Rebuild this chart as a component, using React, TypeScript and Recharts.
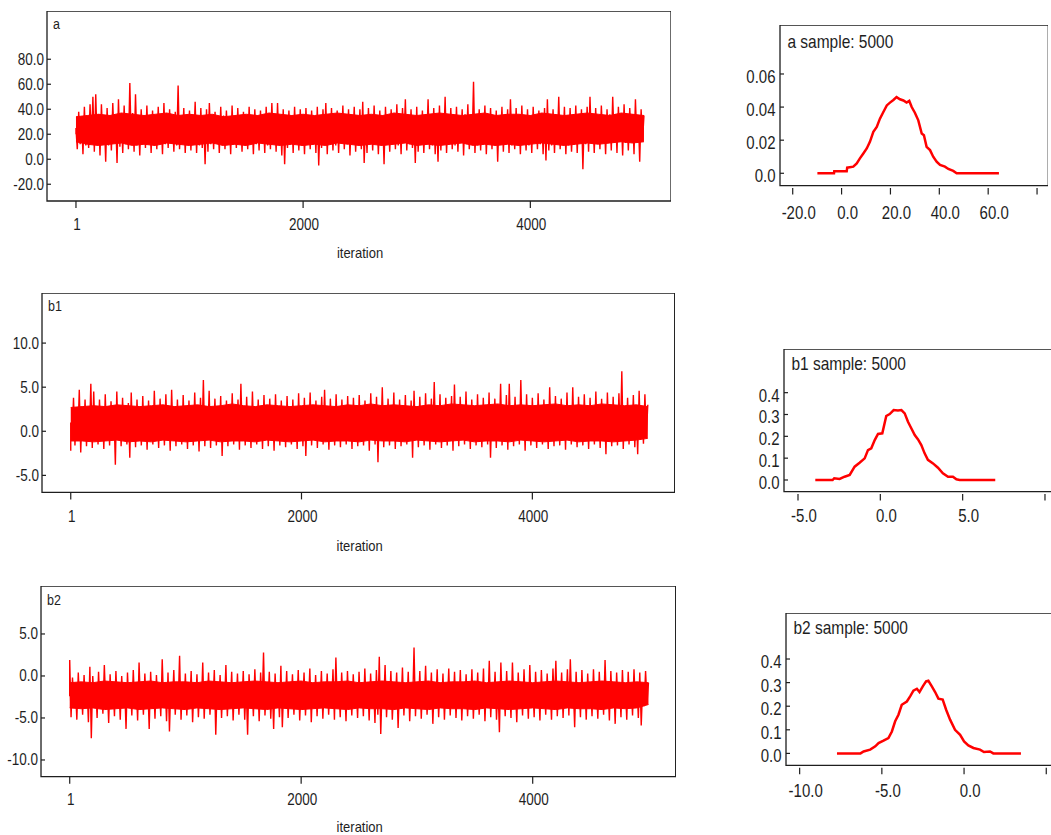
import React from 'react';
import { ComposedChart, Area, Line, XAxis, YAxis, ReferenceArea } from 'recharts';

// ---------- trace data: spike extremes, one high and one low per 25 iterations ----------
const TRACE_STEP = 25;
// ---------- trace data: dense core band, one value per 100 iterations ----------
const CORE_STEP = 100;

const aTraceHigh = [
  25, 38, 34, 42, 33, 44, 50, 52, 36, 44,
  34, 41, 35, 45, 33, 48, 36, 43, 35, 61,
  37, 52, 34, 40, 33, 43, 35, 39, 32, 42,
  34, 45, 33, 40, 35, 38, 59, 34, 41, 33,
  39, 34, 46, 35, 41, 33, 40, 45, 34, 38,
  33, 42, 35, 39, 34, 43, 33, 41, 35, 38,
  34, 42, 33, 40, 35, 39, 33, 42, 34, 45,
  35, 45, 34, 40, 33, 39, 35, 42, 34, 40,
  33, 41, 35, 39, 34, 42, 33, 40, 45, 36,
  41, 34, 39, 35, 43, 33, 40, 34, 42, 35,
  40, 46, 34, 41, 35, 43, 33, 39, 35, 42,
  34, 40, 35, 44, 33, 41, 48, 35, 40, 34,
  42, 35, 39, 34, 48, 35, 41, 34, 43, 36,
  50, 34, 41, 35, 42, 33, 40, 36, 44, 35,
  62, 34, 40, 35, 43, 34, 41, 35, 39, 34,
  42, 35, 40, 48, 34, 41, 35, 43, 34, 40,
  35, 42, 34, 39, 35, 41, 48, 34, 40, 35,
  50, 34, 42, 35, 41, 34, 43, 35, 40, 34,
  42, 50, 35, 41, 34, 43, 35, 40, 36, 50,
  36, 42, 35, 44, 34, 41, 36, 48, 35, 40,
  35,
];
const aTraceLow = [
  20, 8, 12, 4, 11, 9, 13, 6, 12, 3,
  12, -2, 11, 7, 13, -3, 10, 5, 12, 8,
  13, 6, 11, 3, 12, 9, 14, 5, 11, 8,
  13, 4, 12, 9, 13, 6, 11, 8, 14, 5,
  12, 7, 13, 5, 11, 9, -4, 6, 12, 8,
  13, 5, 11, 8, 14, 4, 12, 9, 13, 6,
  11, 8, 13, 4, 12, 7, 14, 5, 11, 8,
  13, 6, 12, 3, -4, 9, 12, 5, 13, 7,
  11, 4, 13, 8, 12, 5, -5, 9, 12, 4,
  13, 7, 11, 5, 14, 8, 12, 3, 13, 6,
  11, 8, -3, 5, 13, 7, 12, 4, 11, -4,
  13, 6, 12, 8, 11, 4, 13, 7, 12, 9,
  -3, 6, 13, 5, 12, 8, 11, 4, -2, 7,
  12, 5, 13, 8, 11, 6, 14, 3, 12, 8,
  13, 5, 11, 7, 12, 4, 13, 8, 11, -2,
  12, 6, 13, 5, 11, 8, 12, 4, 13, 7,
  11, 5, 13, 8, 12, 4, -1, 7, 11, 5,
  12, 8, 13, 4, 11, 6, 12, 5, 13, -8,
  12, 6, 14, 5, 13, 8, 14, 4, 13, 7,
  15, 5, 14, 3, 13, 7, 15, 4, 14, -2,
  15,
];
const aCoreHigh = [
  34, 35, 36, 35, 37, 36, 35, 36, 37, 35,
  36, 35, 36, 34, 35, 36, 35, 37, 36, 35,
  36, 35, 36, 37, 36, 35, 36, 35, 37, 36,
  35, 36, 37, 36, 35, 36, 37, 35, 36, 36,
  35, 37, 36, 35, 36, 37, 36, 35, 37, 36, 35,
];
const aCoreLow = [
  14, 12, 11, 12, 13, 11, 12, 11, 13, 12,
  11, 12, 13, 11, 12, 11, 13, 12, 11, 12,
  11, 12, 11, 13, 12, 11, 12, 11, 12, 13,
  11, 12, 11, 12, 13, 11, 12, 11, 12, 11,
  12, 13, 12, 11, 12, 13, 12, 13, 14, 13, 14,
];

const b1TraceHigh = [
  1.0, 3.8, 2.5, 4.7, 2.6, 3.6, 2.4, 5.4, 4.5, 2.7,
  3.6, 2.5, 4.2, 2.6, 3.4, 2.4, 4.5, 2.7, 3.8, 2.5,
  3.2, 4.4, 2.6, 3.6, 2.5, 4.0, 2.7, 3.5, 2.4, 4.6,
  2.6, 3.7, 2.5, 4.2, 2.6, 4.7, 2.8, 3.6, 2.5, 4.1,
  2.7, 3.5, 2.6, 4.4, 2.5, 3.8, 5.8, 2.7, 4.6, 2.6,
  3.7, 2.5, 4.0, 2.8, 3.5, 2.6, 4.3, 2.7, 3.6, 5.4,
  2.6, 3.9, 2.5, 4.5, 2.7, 3.6, 2.6, 4.1, 2.5, 3.7,
  2.8, 4.2, 2.6, 3.5, 2.5, 4.0, 2.7, 3.6, 2.6, 4.3,
  2.5, 3.8, 2.7, 4.4, 2.6, 3.5, 2.8, 3.9, 4.7, 2.6,
  3.7, 2.5, 4.2, 2.7, 3.6, 2.6, 4.0, 2.5, 3.8, 2.7,
  4.1, 2.6, 3.5, 2.8, 4.3, 2.6, 3.9, 2.7, 5.0, 2.6,
  3.7, 2.5, 4.4, 2.7, 3.6, 2.6, 4.1, 2.8, 3.5, 4.6,
  2.7, 3.9, 2.6, 4.3, 2.8, 3.7, 5.6, 2.7, 4.2, 2.6,
  3.8, 2.7, 4.0, 5.3, 2.6, 3.9, 2.8, 4.5, 2.7, 3.6,
  2.8, 4.2, 2.6, 3.8, 2.7, 4.4, 2.6, 3.7, 2.8, 5.4,
  2.7, 4.1, 5.4, 2.8, 3.9, 2.6, 5.8, 2.7, 4.2, 2.8,
  3.8, 2.6, 4.3, 2.7, 3.6, 2.8, 5.0, 2.6, 4.0, 2.7,
  3.7, 2.8, 4.4, 2.6, 5.0, 2.7, 3.9, 2.8, 4.2, 2.6,
  3.8, 2.7, 4.5, 2.6, 3.7, 2.8, 4.4, 2.7, 3.9, 2.6,
  4.3, 6.8, 2.7, 3.8, 2.6, 4.1, 2.8, 4.6, 2.7, 4.2,
  3.0,
];
const b1TraceLow = [
  -2.2, -0.9, -1.6, -0.8, -2.4, -1.0, -1.7, -0.8, -1.9, -0.9,
  -1.5, -0.8, -2.0, -1.0, -1.6, -0.9, -3.8, -0.8, -1.7, -1.0,
  -1.5, -3.0, -0.9, -1.8, -0.8, -1.6, -1.0, -2.1, -0.9, -1.5,
  -0.8, -1.9, -1.0, -1.6, -0.9, -2.2, -0.8, -1.7, -1.0, -1.5,
  -0.9, -2.0, -0.8, -1.6, -1.0, -2.3, -0.9, -1.7, -0.8, -1.9,
  -1.0, -1.6, -0.9, -2.8, -0.8, -1.7, -1.0, -1.5, -0.9, -2.1,
  -0.8, -1.6, -1.0, -1.9, -0.9, -1.5, -0.8, -2.0, -1.0, -1.7,
  -0.9, -2.2, -0.8, -1.6, -1.0, -1.8, -0.9, -1.5, -0.8, -2.0,
  -1.0, -1.7, -2.8, -0.9, -1.6, -0.8, -1.9, -1.0, -1.5, -0.9,
  -2.1, -0.8, -1.6, -1.0, -1.8, -0.9, -1.5, -0.8, -2.0, -1.0,
  -1.7, -0.9, -1.6, -0.8, -2.2, -1.0, -1.5, -3.5, -0.9, -1.8,
  -0.8, -1.6, -1.0, -2.0, -0.9, -1.7, -0.8, -1.5, -1.0, -3.0,
  -0.9, -1.8, -0.8, -1.6, -1.0, -2.1, -0.9, -1.5, -0.8, -1.9,
  -1.0, -1.6, -0.9, -2.2, -0.8, -1.7, -1.0, -1.5, -0.9, -2.0,
  -0.8, -1.6, -1.0, -1.8, -0.9, -1.5, -3.0, -0.8, -1.9, -1.0,
  -1.6, -0.9, -2.1, -0.8, -1.7, -1.0, -1.5, -0.9, -2.2, -0.8,
  -1.6, -1.0, -1.9, -0.9, -1.5, -0.8, -2.0, -1.0, -1.7, -0.9,
  -1.6, -0.8, -2.1, -1.0, -1.5, -0.9, -1.8, -0.8, -1.6, -1.0,
  -2.0, -0.9, -1.5, -0.8, -1.9, -1.0, -2.6, -0.9, -1.7, -0.8,
  -1.6, -1.0, -2.0, -0.9, -1.5, -0.8, -1.8, -2.6, -0.9, -1.4,
  -0.5,
];
const b1CoreHigh = [
  2.7, 2.8, 2.9, 2.8, 3.0, 2.9, 2.8, 2.9, 3.0, 2.8,
  2.9, 3.0, 2.8, 2.9, 3.1, 2.9, 2.8, 3.0, 2.9, 2.8,
  2.9, 3.0, 2.9, 2.8, 3.0, 2.9, 3.1, 2.9, 3.0, 2.9,
  2.8, 3.0, 2.9, 3.1, 3.0, 2.9, 3.0, 3.1, 2.9, 3.0,
  2.9, 3.0, 3.1, 2.9, 3.0, 2.9, 3.1, 3.0, 2.9, 3.0, 2.8,
];
const b1CoreLow = [
  -1.1, -1.1, -1.2, -1.1, -1.0, -1.2, -1.1, -1.2, -1.0, -1.1,
  -1.2, -1.1, -1.0, -1.2, -1.1, -1.1, -1.2, -1.0, -1.1, -1.2,
  -1.1, -1.0, -1.2, -1.1, -1.1, -1.2, -1.0, -1.1, -1.1, -1.2,
  -1.0, -1.1, -1.2, -1.1, -1.0, -1.2, -1.1, -1.1, -1.2, -1.0,
  -1.1, -1.2, -1.1, -1.0, -1.2, -1.1, -1.1, -1.2, -1.1, -1.0, -0.8,
];

const b2TraceHigh = [
  1.9, -0.2, -1.0, 0.4, -0.8, 0.1, -1.0, 1.1, 0.0, -0.9,
  0.5, -0.8, 1.3, -1.0, 0.2, -0.9, 0.6, -0.8, 0.0, -1.0,
  0.4, -0.9, 0.7, -0.8, 1.6, -1.0, 0.3, -0.9, 0.5, -0.8,
  0.1, -1.0, 2.0, -0.9, 0.4, -0.8, 0.7, -1.0, 2.4, -0.9,
  0.3, -0.8, 0.6, -1.0, 0.2, -0.9, 1.6, -0.8, 0.4, -1.0,
  0.7, -0.9, 0.1, -0.8, 1.3, -1.0, 0.5, -0.9, 0.3, -0.8,
  0.6, -1.0, 0.2, -0.9, 0.8, -0.8, 0.4, 2.8, -1.0, 0.5,
  -0.9, 0.3, -0.8, 1.2, -1.0, 0.6, -0.9, 0.2, -0.8, 0.7,
  -1.0, 0.4, -0.9, 0.9, -0.8, 0.1, -1.0, 0.6, -0.9, 0.3,
  -0.8, 0.8, 2.2, -1.0, 0.4, -0.9, 0.6, -0.8, 0.2, -1.0,
  0.5, -0.9, 0.9, -0.8, 0.3, -1.0, 0.7, 2.3, -0.9, 1.3,
  -0.8, 0.6, -1.0, 0.4, -0.9, 1.0, -0.8, 0.5, -1.0, 3.4,
  -0.9, 0.6, -0.8, 1.2, -1.0, 0.4, -0.9, 0.8, -0.8, 0.3,
  -1.0, 0.9, -0.9, 0.5, -0.8, 0.7, -1.0, 0.2, -0.9, 0.8,
  -0.8, 0.4, -1.0, 0.9, -0.9, 1.8, -0.8, 0.5, -1.0, 1.6,
  -0.9, 0.6, -0.8, 1.6, -1.0, 0.4, -0.9, 0.8, -0.8, 1.3,
  -1.0, 0.5, -0.9, 0.7, -0.8, 0.3, -1.0, 0.9, 1.8, -0.9,
  0.4, -0.8, 0.8, 2.0, -1.0, 0.5, -0.9, 0.7, -0.8, 0.3,
  -1.0, 0.8, -0.9, 0.5, -0.8, 1.9, -1.0, 0.6, -0.9, 0.4,
  -0.8, 0.7, -1.0, 0.5, -0.9, 0.8, -0.8, 0.4, -1.0, 0.6,
  -0.8,
];
const b2TraceLow = [
  -2.4, -4.9, -3.6, -5.2, -3.7, -4.6, -3.8, -5.5, -7.4, -3.6,
  -5.0, -3.7, -4.5, -3.6, -5.6, -3.8, -4.8, -3.7, -5.2, -3.6,
  -6.3, -3.8, -4.7, -3.7, -5.3, -3.6, -4.6, -3.8, -6.3, -3.7,
  -5.1, -3.6, -4.8, -3.8, -5.4, -6.6, -3.7, -4.6, -3.6, -5.2,
  -3.8, -4.7, -3.7, -5.5, -3.6, -4.9, -3.8, -5.1, -3.7, -4.6,
  -3.6, -7.0, -3.8, -5.0, -3.7, -4.8, -3.6, -5.3, -3.8, -4.6,
  -3.7, -5.2, -7.0, -3.6, -4.8, -3.8, -5.4, -3.7, -4.7, -3.6,
  -5.1, -6.3, -3.8, -4.9, -6.1, -3.7, -5.0, -3.6, -4.6, -3.8,
  -5.3, -3.7, -4.7, -3.6, -5.5, -3.8, -4.8, -3.7, -5.1, -3.6,
  -4.6, -3.8, -5.2, -3.7, -4.9, -3.6, -5.4, -3.8, -4.7, -3.7,
  -5.0, -3.6, -4.8, -3.8, -5.3, -3.7, -5.6, -4.6, -6.9, -3.8,
  -4.9, -3.7, -5.2, -3.6, -6.2, -3.8, -4.7, -3.7, -5.4, -3.6,
  -4.8, -3.8, -5.1, -3.7, -4.6, -3.6, -5.7, -3.8, -4.9, -3.7,
  -5.2, -3.6, -4.7, -3.8, -5.0, -3.7, -5.3, -3.6, -4.8, -3.8,
  -5.1, -3.7, -4.6, -3.6, -5.4, -3.8, -4.9, -3.7, -5.2, -6.7,
  -3.6, -4.8, -3.8, -5.0, -3.7, -5.5, -3.6, -4.7, -3.8, -5.1,
  -3.7, -4.9, -3.6, -5.3, -3.8, -4.6, -3.7, -5.2, -3.6, -4.8,
  -3.8, -5.0, -3.7, -4.7, -3.6, -6.1, -3.8, -4.9, -3.7, -5.2,
  -3.6, -4.8, -3.8, -5.1, -3.7, -4.6, -3.6, -5.3, -3.8, -5.7,
  -3.7, -4.9, -3.6, -5.2, -3.8, -4.7, -3.7, -5.0, -5.9, -3.6,
  -3.2,
];
const b2CoreHigh = [
  -0.8, -0.7, -0.8, -0.6, -0.7, -0.8, -0.7, -0.6, -0.8, -0.7,
  -0.7, -0.8, -0.6, -0.7, -0.8, -0.7, -0.6, -0.7, -0.8, -0.7,
  -0.6, -0.8, -0.7, -0.7, -0.6, -0.8, -0.7, -0.6, -0.7, -0.8,
  -0.7, -0.6, -0.8, -0.7, -0.7, -0.6, -0.8, -0.7, -0.6, -0.7,
  -0.8, -0.7, -0.6, -0.7, -0.8, -0.7, -0.6, -0.7, -0.8, -0.7, -0.8,
];
const b2CoreLow = [
  -3.8, -3.9, -3.8, -4.0, -3.9, -3.8, -4.0, -3.9, -3.8, -3.9,
  -4.0, -3.8, -3.9, -4.0, -3.9, -3.8, -3.9, -4.0, -3.8, -3.9,
  -4.0, -3.9, -3.8, -3.9, -4.0, -3.8, -3.9, -3.9, -4.0, -3.8,
  -3.9, -4.0, -3.8, -3.9, -3.9, -4.0, -3.8, -3.9, -4.0, -3.9,
  -3.8, -3.9, -4.0, -3.8, -3.9, -3.9, -4.0, -3.8, -3.9, -3.8, -3.4,
];

const traceXTicks = [1, 2000, 4000];
const traceXLabels = ['1', '2000', '4000'];
const aYTicks = [-20, 0, 20, 40, 60, 80];
const aYLabels = ['-20.0', '0.0', '20.0', '40.0', '60.0', '80.0'];
const b1YTicks = [-5, 0, 5, 10];
const b1YLabels = ['-5.0', '0.0', '5.0', '10.0'];
const b2YTicks = [-10, -5, 0, 5];
const b2YLabels = ['-10.0', '-5.0', '0.0', '5.0'];

// ---------- kernel density data ----------
const aDensX = [-9.9, -3.1, -3.0, 2.1, 2.3, 4.8, 6.2, 7.5, 8.9, 10.3, 11.6, 13.0, 14.4, 15.7, 17.1, 18.5, 19.8, 21.2, 22.5, 23.9, 25.3, 26.6, 27.7, 28.7, 30.0, 31.4, 32.8, 33.7, 34.8, 36.2, 37.5, 38.9, 40.3, 42.3, 43.7, 45.7, 47.1, 64.4];
const aDensY = [0, 0, 0.0012, 0.0012, 0.0034, 0.004, 0.006, 0.009, 0.012, 0.015, 0.019, 0.025, 0.028, 0.033, 0.037, 0.041, 0.0427, 0.0443, 0.046, 0.0447, 0.044, 0.0427, 0.0437, 0.040, 0.0366, 0.032, 0.024, 0.023, 0.016, 0.014, 0.010, 0.007, 0.005, 0.004, 0.0026, 0.0014, 0, 0];
const b1DensX = [-3.95, -2.9, -2.8, -2.47, -2.17, -1.86, -1.56, -1.26, -0.95, -0.75, -0.55, -0.34, -0.14, 0.12, 0.36, 0.57, 0.81, 1.07, 1.28, 1.48, 1.68, 1.88, 2.09, 2.29, 2.49, 2.69, 2.89, 3.2, 3.5, 3.8, 4.11, 4.41, 4.62, 4.82, 6.98];
const b1DensY = [0, 0, 0.008, 0.005, 0.015, 0.023, 0.061, 0.079, 0.099, 0.137, 0.145, 0.183, 0.211, 0.214, 0.293, 0.302, 0.32, 0.318, 0.32, 0.305, 0.267, 0.237, 0.206, 0.186, 0.160, 0.122, 0.092, 0.076, 0.056, 0.031, 0.015, 0.015, 0.003, 0, 0];
const b2DensX = [-7.73, -6.3, -6.11, -5.71, -5.40, -5.2, -4.9, -4.6, -4.39, -4.19, -3.99, -3.79, -3.48, -3.28, -3.08, -2.87, -2.71, -2.51, -2.31, -2.17, -1.96, -1.76, -1.56, -1.30, -1.09, -0.85, -0.55, -0.24, 0.0, 0.26, 0.57, 0.97, 1.21, 1.58, 1.78, 3.46];
const b2DensY = [0, 0, 0.008, 0.016, 0.03, 0.044, 0.054, 0.065, 0.093, 0.136, 0.164, 0.206, 0.22, 0.242, 0.266, 0.274, 0.26, 0.284, 0.305, 0.308, 0.284, 0.26, 0.232, 0.228, 0.185, 0.143, 0.10, 0.079, 0.051, 0.034, 0.023, 0.016, 0.006, 0.008, 0, 0];

const aDensXTicks = [-20, 0, 20, 40, 60, 80];
const aDensXLabels = ['-20.0', '0.0', '20.0', '40.0', '60.0', ''];
const aDensYTicks = [0, 0.02, 0.04, 0.06];
const aDensYLabels = ['0.0', '0.02', '0.04', '0.06'];
const b1DensXTicks = [-5, 0, 5, 10];
const b1DensXLabels = ['-5.0', '0.0', '5.0', ''];
const b2DensXTicks = [-10, -5, 0, 5];
const b2DensXLabels = ['-10.0', '-5.0', '0.0', ''];
const bDensYTicks = [0, 0.1, 0.2, 0.3, 0.4];
const bDensYLabels = ['0.0', '0.1', '0.2', '0.3', '0.4'];

// ---------- styling ----------
const FONT = '"Liberation Sans", Arial, Helvetica, sans-serif';
const INK = '#1e1e1e';
const RED = '#ff0000';

function StretchText(props: { x: number; y: number; text: string; size: number; sy?: number; anchor?: string }) {
  const { x, y, text, size, sy = 1.2, anchor = 'middle' } = props;
  return (
    <text
      transform={`translate(${x},${y}) scale(1,${sy})`}
      textAnchor={anchor as any}
      dominantBaseline="central"
      fontFamily={FONT}
      fontSize={size}
      fill={INK}
    >
      {text}
    </text>
  );
}

type Box = { left: number; top: number; w: number; h: number };

type TraceCfg = {
  name: string;
  high: number[];
  low: number[];
  coreHigh: number[];
  coreLow: number[];
  yTicks: number[];
  yLabels: string[];
  box: Box;
  xDomain: [number, number];
  yDomain: [number, number];
  xLabelDy: number;
  iterDy: number;
  nameDy: number;
};

const WY = 50;
const HX = 70;

function TracePanel({ cfg }: { cfg: TraceCfg }) {
  // zig-zag through the sampled extremes: low half a step before each high
  const spikes: { iter: number; v: number }[] = [];
  cfg.high.forEach((h, k) => {
    const it = k === 0 ? 1 : k * TRACE_STEP;
    spikes.push({ iter: k === 0 ? 1 : it - TRACE_STEP / 2, v: cfg.low[k] });
    spikes.push({ iter: it, v: h });
  });
  const core = cfg.coreHigh.map((h, k) => ({ iter: k === 0 ? 1 : k * CORE_STEP, band: [cfg.coreLow[k], h] }));
  const left0 = cfg.box.left - WY;
  const H = cfg.box.h;
  return (
    <div style={{ position: 'absolute', left: left0, top: cfg.box.top }}>
      <ComposedChart width={WY + cfg.box.w} height={H + HX} margin={{ top: 0, right: 0, bottom: 0, left: 0 }}>
        <XAxis
          type="number"
          dataKey="iter"
          domain={cfg.xDomain}
          allowDataOverflow
          ticks={traceXTicks}
          interval={0}
          axisLine={false}
          tickLine={false}
          height={HX}
          tick={(p: any) => (
            <g>
              <line x1={p.x} x2={p.x} y1={H} y2={H + 7} stroke={INK} strokeWidth={1.2} />
              <StretchText x={p.x + 1} y={H + cfg.xLabelDy} text={traceXLabels[p.index] ?? ''} size={13.5} />
            </g>
          )}
          label={{
            content: () => <StretchText x={360 - left0} y={H + cfg.iterDy} text="iteration" size={13} sy={1.15} />,
          }}
        />
        <YAxis
          type="number"
          domain={cfg.yDomain}
          allowDataOverflow
          ticks={cfg.yTicks}
          interval={0}
          axisLine={false}
          tickLine={false}
          width={WY}
          tick={(p: any) => (
            <g>
              <line x1={WY} x2={WY + 4} y1={p.y} y2={p.y} stroke={INK} strokeWidth={1.2} />
              <StretchText x={WY - 3} y={p.y} text={cfg.yLabels[p.index] ?? ''} size={13.5} anchor="end" />
            </g>
          )}
        />
        <Area
          data={core}
          dataKey="band"
          type="linear"
          stroke={RED}
          strokeWidth={1}
          fill={RED}
          fillOpacity={1}
          dot={false}
          activeDot={false}
          isAnimationActive={false}
        />
        <Line
          data={spikes}
          dataKey="v"
          type="linear"
          stroke={RED}
          strokeWidth={1.4}
          dot={false}
          activeDot={false}
          isAnimationActive={false}
        />
        <ReferenceArea
          x1={cfg.xDomain[0]}
          x2={cfg.xDomain[1]}
          y1={cfg.yDomain[0]}
          y2={cfg.yDomain[1]}
          fill="none"
          fillOpacity={0}
          stroke={INK}
          strokeWidth={1.3}
          ifOverflow="visible"
          label={() => <StretchText x={WY + 6} y={cfg.nameDy} text={cfg.name} size={12.5} anchor="start" />}
        />
      </ComposedChart>
    </div>
  );
}

type DensCfg = {
  title: string;
  xs: number[];
  ys: number[];
  xTicks: number[];
  xLabels: string[];
  yTicks: number[];
  yLabels: string[];
  box: Box;
  xDomain: [number, number];
  yDomain: [number, number];
  xLabelDy: number;
  titleDy: number;
};

const DWY = 60;
const DHX = 50;

function DensityPanel({ cfg }: { cfg: DensCfg }) {
  const data = cfg.xs.map((x, i) => ({ x, y: cfg.ys[i] }));
  const H = cfg.box.h;
  return (
    <div style={{ position: 'absolute', left: cfg.box.left - DWY, top: cfg.box.top }}>
      <ComposedChart width={DWY + cfg.box.w} height={H + DHX} data={data} margin={{ top: 0, right: 0, bottom: 0, left: 0 }}>
        <XAxis
          type="number"
          dataKey="x"
          domain={cfg.xDomain}
          allowDataOverflow
          ticks={cfg.xTicks}
          interval={0}
          axisLine={false}
          tickLine={false}
          height={DHX}
          tick={(p: any) => (
            <g>
              <line x1={p.x} x2={p.x} y1={H + 2.3} y2={H + 8.8} stroke={INK} strokeWidth={1.2} />
              <StretchText x={p.x + 6} y={H + cfg.xLabelDy} text={cfg.xLabels[p.index] ?? ''} size={15} />
            </g>
          )}
        />
        <YAxis
          type="number"
          domain={cfg.yDomain}
          allowDataOverflow
          ticks={cfg.yTicks}
          interval={0}
          axisLine={false}
          tickLine={false}
          width={DWY}
          tick={(p: any) => (
            <g>
              <line x1={DWY} x2={DWY + 4} y1={p.y} y2={p.y} stroke={INK} strokeWidth={1.2} />
              <StretchText x={DWY - 4.5} y={p.y + 3} text={cfg.yLabels[p.index] ?? ''} size={15} anchor="end" />
            </g>
          )}
        />
        <Line
          dataKey="y"
          type="linear"
          stroke={RED}
          strokeWidth={2.5}
          dot={false}
          activeDot={false}
          isAnimationActive={false}
        />
        <ReferenceArea
          x1={cfg.xDomain[0]}
          x2={cfg.xDomain[1]}
          y1={cfg.yDomain[0]}
          y2={cfg.yDomain[1]}
          fill="none"
          fillOpacity={0}
          stroke={INK}
          strokeWidth={1.3}
          ifOverflow="visible"
          label={() => <StretchText x={DWY + 7.4} y={cfg.titleDy} text={cfg.title} size={15.5} anchor="start" />}
        />
      </ComposedChart>
    </div>
  );
}

const traces: TraceCfg[] = [
  {
    name: 'a', high: aTraceHigh, low: aTraceLow, coreHigh: aCoreHigh, coreLow: aCoreLow,
    yTicks: aYTicks, yLabels: aYLabels,
    box: { left: 47, top: 11, w: 624, h: 190 },
    xDomain: [-254, 5238], yDomain: [-33.4, 118.6], xLabelDy: 24, iterDy: 51.7, nameDy: 13.3,
  },
  {
    name: 'b1', high: b1TraceHigh, low: b1TraceLow, coreHigh: b1CoreHigh, coreLow: b1CoreLow,
    yTicks: b1YTicks, yLabels: b1YLabels,
    box: { left: 42.3, top: 293.3, w: 632.7, h: 199.4 },
    xDomain: [-248, 5233], yDomain: [-6.93, 15.68], xLabelDy: 24.6, iterDy: 53.3, nameDy: 13.4,
  },
  {
    name: 'b2', high: b2TraceHigh, low: b2TraceLow, coreHigh: b2CoreHigh, coreLow: b2CoreLow,
    yTicks: b2YTicks, yLabels: b2YLabels,
    box: { left: 41.3, top: 586, w: 634.7, h: 190.7 },
    xDomain: [-247, 5235], yDomain: [-11.99, 10.71], xLabelDy: 23.3, iterDy: 50.3, nameDy: 14,
  },
];

const densities: DensCfg[] = [
  {
    title: 'a sample: 5000', xs: aDensX, ys: aDensY,
    xTicks: aDensXTicks, xLabels: aDensXLabels, yTicks: aDensYTicks, yLabels: aDensYLabels,
    box: { left: 780, top: 25, w: 268.3, h: 160.7 },
    xDomain: [-25.2, 84.6], yDomain: [-0.0075, 0.0896], xLabelDy: 27, titleDy: 16.7,
  },
  {
    title: 'b1 sample: 5000', xs: b1DensX, ys: b1DensY,
    xTicks: b1DensXTicks, xLabels: b1DensXLabels, yTicks: bDensYTicks, yLabels: bDensYLabels,
    box: { left: 784.3, top: 349, w: 271.7, h: 142.7 },
    xDomain: [-5.85, 10.65], yDomain: [-0.0536, 0.6], xLabelDy: 24, titleDy: 15,
  },
  {
    title: 'b2 sample: 5000', xs: b2DensX, ys: b2DensY,
    xTicks: b2DensXTicks, xLabels: b2DensXLabels, yTicks: bDensYTicks, yLabels: bDensYLabels,
    box: { left: 785.7, top: 613.3, w: 270.3, h: 152.4 },
    xDomain: [-10.83, 5.61], yDomain: [-0.0508, 0.595], xLabelDy: 25.3, titleDy: 15,
  },
];

export default function App() {
  return (
    <div
      style={{
        position: 'absolute',
        left: 0,
        top: 0,
        width: 1051,
        height: 835,
        overflow: 'hidden',
        background: '#ffffff',
        fontFamily: FONT,
      }}
    >
      {traces.map((t) => (
        <TracePanel key={t.name} cfg={t} />
      ))}
      {densities.map((d) => (
        <DensityPanel key={d.title} cfg={d} />
      ))}
    </div>
  );
}
